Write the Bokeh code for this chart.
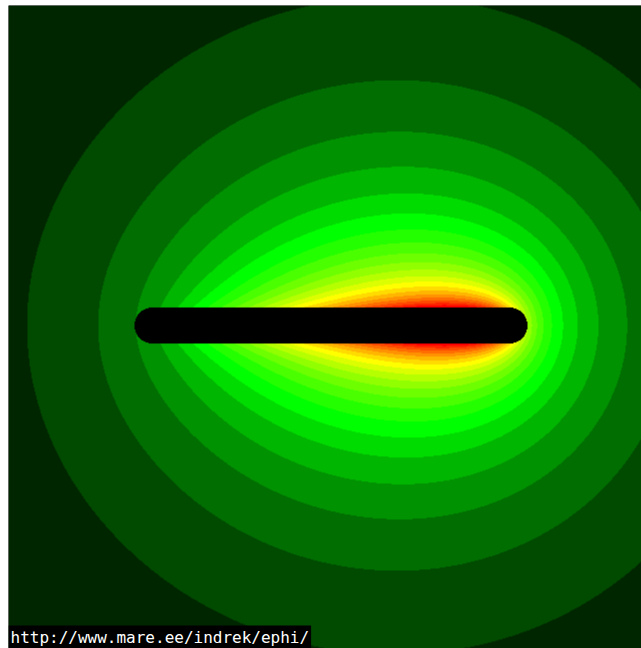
import numpy as np
from bokeh.plotting import figure
from bokeh.models import Range1d, Label
from bokeh.embed import file_html
from bokeh.resources import INLINE

# ---- data (pixel units of the field picture, y up) ----
field_width = 633
field_height = 643
rod_x = [144, 501]          # centre-line ends of the charged rod
rod_y = 323                 # centre-line height
rod_radius = 18             # half thickness of the rod (rounded ends)
# charge density grows linearly from the left end to the right end of the rod;
# colour band boundaries of the potential
band_edges = [188, 247, 305, 362, 421, 479, 538, 597, 656, 715,
              774, 833, 892, 951, 1010, 1069, 1128, 1187, 1246, 1300]
band_colors = ["#002600", "#004b00", "#006e00", "#009200", "#00b600", "#00db00", "#00ff00",
               "#24ff00", "#49ff00", "#6dff00", "#92ff00", "#b6ff00", "#dbff00", "#ffff00",
               "#ffdb00", "#ffb600", "#ff9200", "#ff6d00", "#ff4900", "#ff2400", "#ff0000"]
credit = "http://www.mare.ee/indrek/ephi/"

# ---- potential of the line charge, sampled on the picture grid ----
xs = np.arange(field_width) + 0.5
ys = np.arange(field_height) + 0.5
X, Y = np.meshgrid(xs, ys)
a, b = rod_x
h = np.maximum(np.abs(Y - rod_y), 1e-6)
u1 = a - X
u2 = b - X
phi = (np.sqrt(u2 ** 2 + h ** 2) - np.sqrt(u1 ** 2 + h ** 2)) + \
      (X - a) * (np.arcsinh(u2 / h) - np.arcsinh(u1 / h))

idx = np.searchsorted(np.array(band_edges), phi)
rgb = np.array([[int(c[1:3], 16), int(c[3:5], 16), int(c[5:7], 16)] for c in band_colors],
               dtype=np.uint8)
img = np.zeros((field_height, field_width), dtype=np.uint32)
view = img.view(dtype=np.uint8).reshape((field_height, field_width, 4))
view[:, :, 0:3] = rgb[idx]
view[:, :, 3] = 255

# the rod itself is black
dist = np.sqrt((X - np.clip(X, a, b)) ** 2 + (Y - rod_y) ** 2)
inside = dist <= rod_radius
view[inside, 0:3] = 0

p = figure(width=641, height=648, output_backend="svg", toolbar_location=None,
           x_range=Range1d(0, field_width), y_range=Range1d(0, field_height),
           min_border_left=8, min_border_top=5, min_border_right=0, min_border_bottom=0,
           x_axis_location=None, y_axis_location=None)
p.grid.visible = False
p.outline_line_color = None
p.background_fill_color = "black"
p.border_fill_color = "white"

p.image_rgba(image=[img], x=0, y=0, dw=field_width, dh=field_height)

kw = dict(x=0, y=0, x_units="screen", y_units="screen", text=credit,
          text_color="white", text_font="DejaVu Sans Mono", text_font_size="16px",
          text_baseline="bottom", text_align="left",
          background_fill_color="black", background_fill_alpha=1.0)
try:
    lbl = Label(padding=2, **kw)
except Exception:
    lbl = Label(**kw)
p.add_layout(lbl)

open("out.html", "w").write(file_html(p, INLINE))
